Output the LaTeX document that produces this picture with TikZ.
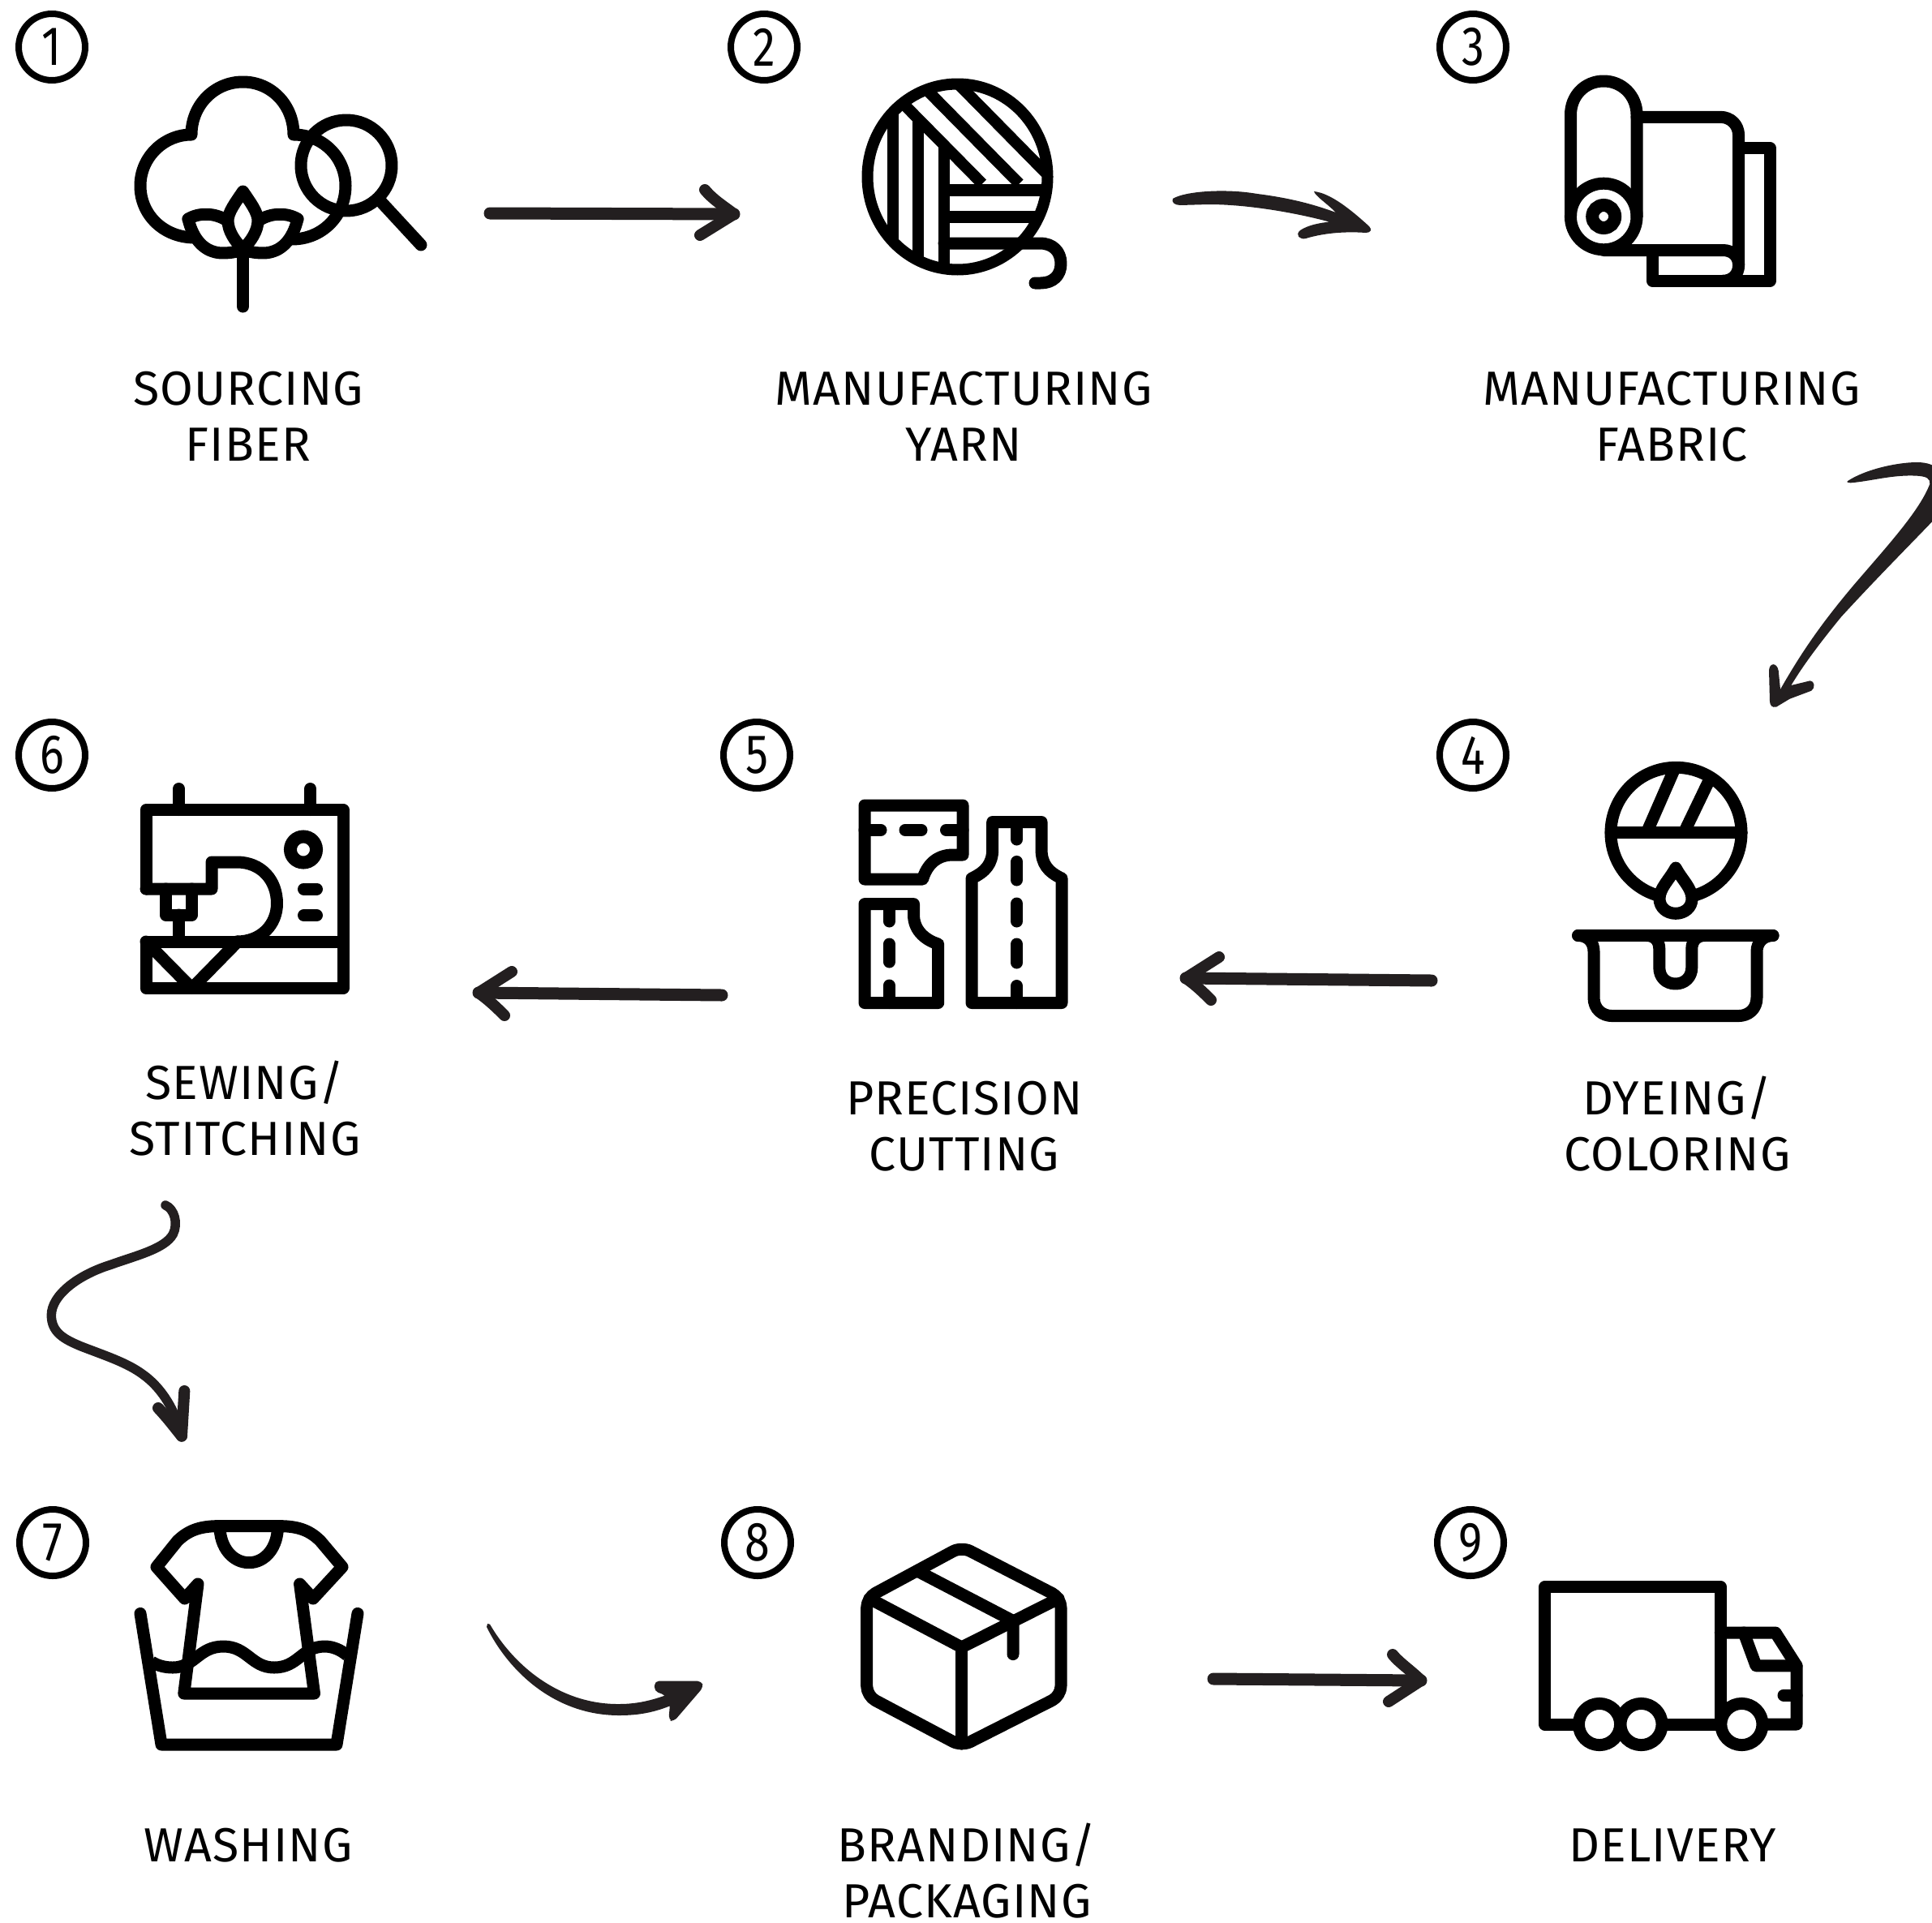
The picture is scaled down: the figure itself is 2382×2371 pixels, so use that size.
\documentclass[tikz,border=0pt]{standalone}
\usepackage{fontspec}
\setmainfont[LetterSpace=2]{Fira Sans}
\newfontfamily\numfont[FakeStretch=0.82]{Fira Sans}
\definecolor{ink}{HTML}{231F20}
\tikzset{
  ic/.style={draw=black,line width=15pt,line join=round,line cap=round},
  knob/.style={draw=black,line width=16pt},
  dashln/.style={draw=black,line width=15pt,line cap=round},
  num/.style={circle,draw=black,line width=8pt,minimum size=82pt,inner sep=0pt,font=\numfont\fontsize{68}{68}\selectfont},
  lbl/.style={align=center,inner sep=0pt,anchor=base,font=\fontsize{59}{69}\selectfont},
  shaft/.style={draw=ink,line width=15pt,line cap=round,line join=round},
  barb/.style={draw=ink,line width=14pt,line cap=round,line join=round},
  brush/.style={fill=ink,draw=none}
}
\begin{document}
\begin{tikzpicture}[x=1pt,y=-1pt]
\useasboundingbox (0,0) rectangle (2382,2371);
% numbers
\node[num] (n1) at (64,58) {1};
\node[num] (n2) at (942,58) {2};
\node[num] (n3) at (1816,58) {3};
\node[num] (n4) at (1816,931) {4};
\node[num] (n5) at (933,931) {5};
\node[num] (n6) at (64,931) {6};
\node[num] (n7) at (65,1902) {7};
\node[num] (n8) at (934,1902) {8};
\node[num] (n9) at (1813,1902) {9};
% labels
\node[lbl] (l1) at (306,568) {SOURCING\\FIBER};
\node[lbl] (l2) at (1188,568) {MANUFACTURING\\YARN};
\node[lbl] (l3) at (2061,568) {MANUFACTURING\\FABRIC};
\node[lbl] (l4) at (2068,1443) {DYEING/\\COLORING};
\node[lbl] (l5) at (1189,1443) {PRECISION\\CUTTING};
\node[lbl] (l6) at (302,1424) {SEWING/\\STITCHING};
\node[lbl] (l7) at (306,2295) {WASHING};
\node[lbl] (l8) at (1192,2364) {BRANDING/\\PACKAGING};
\node[lbl] (l9) at (2062,2295) {DELIVERY};
% ---------- icon 1: cotton and magnifier
\draw[ic] (240,293) .. controls (202,293) and (173,265) .. (173,229) .. controls (173,194) and (202,166) .. (236,166)
  .. controls (236,130) and (264,101) .. (299.5,101) .. controls (335,101) and (362,130) .. (362,166)
  .. controls (398,166) and (426,194) .. (426,229) .. controls (426,265) and (398,295) .. (360,295);
\draw[ic] (232,270) .. controls (245,262) and (265,262) .. (280,272);
\draw[ic] (367,270) .. controls (354,262) and (334,262) .. (319,272);
\draw[ic] (232,270) .. controls (238,295) and (252,312) .. (275,312) .. controls (285,312) and (295,310) .. (299.5,307)
  .. controls (304,310) and (314,312) .. (324,312) .. controls (347,312) and (361,295) .. (367,270);
\draw[ic] (299.5,236) .. controls (290,250) and (281,262) .. (281,272) .. controls (281,285) and (290,298) .. (299.5,307)
  .. controls (309,298) and (318,285) .. (318,272) .. controls (318,262) and (309,250) .. (299.5,236) -- cycle;
\draw[ic] (299.5,307) -- (299.5,378);
\draw[ic] (427,204) circle[radius=56];
\draw[ic] (470,249) -- (519,302);
% ---------- icon 2: yarn
\begin{scope}
  \clip (1180.5,218) ellipse[x radius=115,y radius=118];
  \draw[line width=14pt,draw=black] (1100.5,90) -- (1100.5,345);
  \draw[line width=14pt,draw=black] (1132,146) -- (1132,345);
  \draw[line width=14pt,draw=black] (1164.3,179) -- (1164.3,345);
  \draw[line width=14pt,draw=black] (1095,109) -- (1211,226.5);
  \draw[line width=14pt,draw=black] (1130,98) -- (1256.6,226.5);
  \draw[line width=14pt,draw=black] (1175,97) -- (1300,224);
  \draw[line width=15pt,draw=black] (1164,234) -- (1310,234);
  \draw[line width=15pt,draw=black] (1164,267) -- (1310,267);
\end{scope}
\draw[ic,line width=14pt] (1180.5,218) ellipse[x radius=111,y radius=114.5];
\draw[ic] (1164,300) -- (1282,300) .. controls (1298,300) and (1308,310) .. (1308,325) .. controls (1308,340) and (1298,349) .. (1283,349) -- (1276,349);
% ---------- icon 3: fabric roll
\draw[ic,line cap=butt] (2143.6,182.5) -- (2182,182.5) -- (2182,346.3) -- (2037.4,346.3) -- (2037.4,308.5);
\draw[ic] (2018,144.3) -- (2121,144.3) .. controls (2134,144.3) and (2143.6,154) .. (2143.6,167) -- (2143.6,327) .. controls (2143.6,338) and (2136,346.3) .. (2124,346.3);
\draw[ic] (1977,308.5) -- (2124,308.5) .. controls (2136,308.5) and (2143.6,316) .. (2143.6,327);
\draw[ic] (1936.5,267) -- (1936.5,141.5) .. controls (1936.5,118) and (1954,100) .. (1977.2,100) .. controls (2000,100) and (2018,118) .. (2018,141.5) -- (2018,267);
\draw[ic] (1977.2,267) circle[radius=40.8];
\draw[knob] (1977.2,267) circle[radius=14];
% ---------- icon 4: dye
\draw[ic] (2066.5,1026.8) circle[radius=80.5];
\draw[ic] (1986,1026.8) -- (2147,1026.8);
\begin{scope}
  \clip (2066.5,1026.8) circle[radius=80.5];
  \draw[line width=15pt,draw=black] (2068,940) -- (2030,1027);
  \draw[line width=15pt,draw=black] (2114,948) -- (2076,1027);
\end{scope}
\draw[ic,fill=white] (2066,1070) .. controls (2058,1085) and (2046,1095) .. (2046,1108) .. controls (2046,1119) and (2055,1126.3) .. (2066,1126.3) .. controls (2077,1126.3) and (2086,1119) .. (2086,1108) .. controls (2086,1095) and (2074,1085) .. (2066,1070) -- cycle;
\draw[ic] (1945.6,1153.5) -- (2186,1153.5);
\draw[ic] (1945.6,1153.5) .. controls (1958,1153.5) and (1965,1162) .. (1965,1173) -- (1965,1230) .. controls (1965,1244) and (1975,1252.6) .. (1988,1252.6) -- (2143,1252.6) .. controls (2156,1252.6) and (2166,1244) .. (2166,1230) -- (2166,1173) .. controls (2166,1162) and (2174,1153.5) .. (2186,1153.5);
\draw[ic] (2030,1153.5) .. controls (2040,1153.5) and (2045.8,1160) .. (2045.8,1170) -- (2045.8,1193) .. controls (2045.8,1205) and (2054,1213) .. (2065.8,1213) .. controls (2077,1213) and (2085.8,1205) .. (2085.8,1193) -- (2085.8,1170) .. controls (2085.8,1160) and (2092,1153.5) .. (2102,1153.5);
% ---------- icon 5: patterns
\draw[ic] (1066,993) -- (1187,993) -- (1187,1054) -- (1175,1054) .. controls (1155,1054) and (1143,1066) .. (1137.5,1084) -- (1066,1084) -- cycle;
\draw[dashln] (1066,1023.4) -- (1086,1023.4);
\draw[dashln] (1116,1023.4) -- (1136,1023.4);
\draw[dashln] (1166.5,1023.4) -- (1187,1023.4);
\draw[ic] (1198,1083) .. controls (1215,1075) and (1223.7,1065) .. (1223.7,1047) -- (1223.7,1013.5) -- (1284,1013.5) -- (1284,1047) .. controls (1284,1065) and (1292,1075) .. (1309,1083) -- (1309,1236.5) -- (1198,1236.5) -- cycle;
\draw[dashln] (1253.6,1013.5) -- (1253.6,1035);
\draw[dashln] (1253.6,1062.4) -- (1253.6,1085);
\draw[dashln] (1253.6,1114) -- (1253.6,1136);
\draw[dashln] (1253.6,1164) -- (1253.6,1187);
\draw[dashln] (1253.6,1215.5) -- (1253.6,1236.5);
\draw[ic] (1066,1114.6) -- (1126.5,1114.6) -- (1126.5,1128) .. controls (1126.5,1145) and (1138,1158) .. (1156.7,1164) -- (1156.7,1236.5) -- (1066,1236.5) -- cycle;
\draw[dashln] (1096.4,1114.6) -- (1096.4,1136);
\draw[dashln] (1096.4,1164) -- (1096.4,1186);
\draw[dashln] (1096.4,1215) -- (1096.4,1236.5);
% ---------- icon 6: sewing machine
\draw[ic] (180,1096) -- (180,998.5) -- (423,998.5) -- (423,1218.5) -- (180,1218.5) -- (180,1161) -- (423,1161);
\draw[ic] (220.5,972.5) -- (220.5,998.5);
\draw[ic] (382.6,972.5) -- (382.6,998.5);
\draw[ic] (180,1096) -- (261,1096) -- (261,1063) -- (292,1063) .. controls (322,1063) and (341.5,1085) .. (341.5,1114) .. controls (341.5,1140) and (322,1161) .. (292,1161);
\draw[ic] (204.5,1096) -- (204.5,1128) -- (236.6,1128) -- (236.6,1096);
\draw[ic] (220.5,1128) -- (220.5,1161);
\draw[knob] (374,1047.5) circle[radius=16];
\draw[dashln] (374.5,1096) -- (390.5,1096);
\draw[dashln] (374.5,1128.6) -- (390.5,1128.6);
\draw[ic] (180,1161) -- (236.6,1218.5) -- (293,1161);
% ---------- icon 7: washing
\draw[ic] (271,1881.6) .. controls (250,1881.6) and (234,1885) .. (218.7,1900) -- (193,1932) -- (227.7,1971) -- (244,1953) -- (226.8,2088) -- (387.5,2088) -- (369.6,1953) -- (386,1971) -- (422,1932) -- (395,1900) .. controls (380,1885) and (364,1881.6) .. (343,1881.6) -- cycle;
\draw[ic] (271,1881.6) .. controls (271,1908) and (287,1926.7) .. (307,1926.7) .. controls (327,1926.7) and (342.5,1908) .. (342.5,1881.6);
\draw[ic] (173,1989.4) -- (199,2151) -- (415,2151) -- (441,1989.4);
\draw[ic,line cap=butt] (187,2049) .. controls (195,2054) and (204,2056) .. (213,2056) .. controls (240,2056) and (245,2030) .. (275.4,2030) .. controls (305,2030) and (310,2056) .. (338,2056) .. controls (368,2056) and (372,2030) .. (400.4,2030) .. controls (410,2030) and (420,2034) .. (428,2041);
% ---------- icon 8: box
\draw[ic,rounded corners=12pt] (1185.6,1907) -- (1308,1970) -- (1308,2091) -- (1185.6,2153) -- (1068.7,2091) -- (1068.7,1970) -- cycle;
\draw[ic] (1072,1971) -- (1185.6,2031) -- (1305,1971);
\draw[ic] (1185.6,2031) -- (1185.6,2150);
\draw[ic] (1133,1938) -- (1249,1998.5) -- (1249,2039.6);
% ---------- icon 9: truck
\draw[ic] (1904.8,1956.6) rectangle (2121.3,2126);
\draw[ic] (2121.3,2013) -- (2189,2013) -- (2215,2053.8) -- (2215,2126) -- (2121.3,2126);
\draw[ic] (2150,2013) -- (2165,2053.8) -- (2215,2053.8);
\draw[ic] (2199,2090) -- (2215,2090);
\draw[ic,fill=white] (1972,2126) circle[radius=25.6];
\draw[ic,fill=white] (2023.5,2126) circle[radius=25.6];
\draw[ic,fill=white] (2147.4,2126) circle[radius=25.6];
% ---------- arrows
% 1 to 2
\coordinate (a1t) at (604,263);
\coordinate (a1h) at (905,264);
\coordinate (a1u) at (869,234);
\coordinate (a1d) at (863,290);
\draw[shaft] (a1t) -- (a1h);
\draw[barb] (a1u) .. controls (880,247) and (892,254) .. (a1h);
\draw[barb] (a1d) -- (a1h);
% 2 to 3
\coordinate (a2t) at (1446,245);
\fill[brush] (a2t) .. controls (1460,236) and (1510,232) .. (1550,239) .. controls (1590,244) and (1620,252) .. (1647,262) .. controls (1635,250) and (1622,242) .. (1620,236) .. controls (1640,238) and (1665,258) .. (1688,279) .. controls (1692,283) and (1690,287) .. (1684,287) .. controls (1655,285) and (1630,288) .. (1610,294) .. controls (1603,296) and (1596,290) .. (1603,284) .. controls (1612,278) and (1625,275) .. (1639,273.6) .. controls (1600,263) and (1540,252) .. (1490,252) -- (1455,253) .. controls (1448,253) and (1444,249) .. (a2t) -- cycle;
% 3 to 4
\begin{scope}[shift={(2100,550)},scale=0.33333]
\coordinate (a3t) at (533,130);
\fill[brush] (a3t) .. controls (600,85) and (720,60) .. (790,60) .. controls (850,60) and (880,85) .. (880,120) -- (870,255) .. controls (760,370) and (640,490) .. (510,632) .. controls (430,730) and (370,810) .. (325,885) -- (395,868) .. controls (412,868) and (415,895) .. (400,905) -- (320,935) -- (270,965) .. controls (255,968) and (247,960) .. (246,945) -- (243,830) .. controls (245,800) and (272,800) .. (278,830) -- (285,900) .. controls (370,750) and (450,640) .. (560,510) .. controls (680,370) and (800,240) .. (838,140) .. controls (840,120) and (825,112) .. (790,110) .. controls (700,105) and (620,130) .. (545,136) .. controls (530,136) and (530,130) .. (a3t) -- cycle;
\end{scope}
% 4 to 5
\coordinate (a4t) at (1765,1209);
\coordinate (a4h) at (1462,1206);
\coordinate (a4u) at (1503,1180);
\coordinate (a4d) at (1493,1233);
\draw[shaft] (a4t) -- (a4h);
\draw[barb] (a4u) -- (a4h);
\draw[barb] (a4d) .. controls (1485,1225) and (1475,1215) .. (a4h);
% 5 to 6
\coordinate (a5t) at (890,1227);
\coordinate (a5h) at (590,1224);
\coordinate (a5u) at (631,1198);
\coordinate (a5d) at (622,1252);
\draw[shaft] (a5t) -- (a5h);
\draw[barb] (a5u) -- (a5h);
\draw[barb] (a5d) .. controls (614,1244) and (604,1234) .. (a5h);
% 6 to 7
\begin{scope}[shift={(0,1400)},scale=0.33333]
\coordinate (a6t) at (612,258);
\coordinate (a6h) at (672,1112);
\coordinate (a6u) at (682,945);
\coordinate (a6d) at (585,1008);
\draw[draw=ink,line width=11.5pt,line cap=round] (a6t) .. controls (645,272) and (660,325) .. (640,365) .. controls (610,420) and (500,445) .. (410,478) .. controls (290,515) and (190,590) .. (190,665) .. controls (190,730) and (240,755) .. (300,780) .. controls (390,815) and (470,840) .. (530,885) .. controls (600,935) and (650,1020) .. (a6h);
\draw[barb] (a6u) -- (a6h);
\draw[barb] (a6d) .. controls (620,1045) and (650,1085) .. (a6h);
\end{scope}
% 7 to 8
\begin{scope}[shift={(590,1990)},scale=0.33333]
\coordinate (a7t) at (33,36);
\coordinate (a7h) at (832,270);
\fill[brush] (a7t) -- (42,38) .. controls (130,190) and (300,335) .. (520,333) .. controls (590,333) and (650,318) .. (720,290) -- (720,335) .. controls (650,365) and (590,375) .. (520,375) .. controls (280,375) and (110,210) .. (30,48) -- cycle;
\fill[brush,rounded corners=5pt] (652,248) -- (825,248) -- (a7h) -- (722,398) -- (703,392) -- (708,335) -- (690,300) -- (650,285) -- cycle;
\end{scope}
% 8 to 9
\coordinate (a8t) at (1496,2070);
\coordinate (a8h) at (1752,2072);
\coordinate (a8u) at (1717,2040);
\coordinate (a8d) at (1712,2098);
\draw[shaft] (a8t) -- (a8h);
\draw[barb] (a8u) .. controls (1725,2050) and (1740,2060) .. (a8h);
\draw[barb] (a8d) -- (a8h);
\end{tikzpicture}
\end{document}
